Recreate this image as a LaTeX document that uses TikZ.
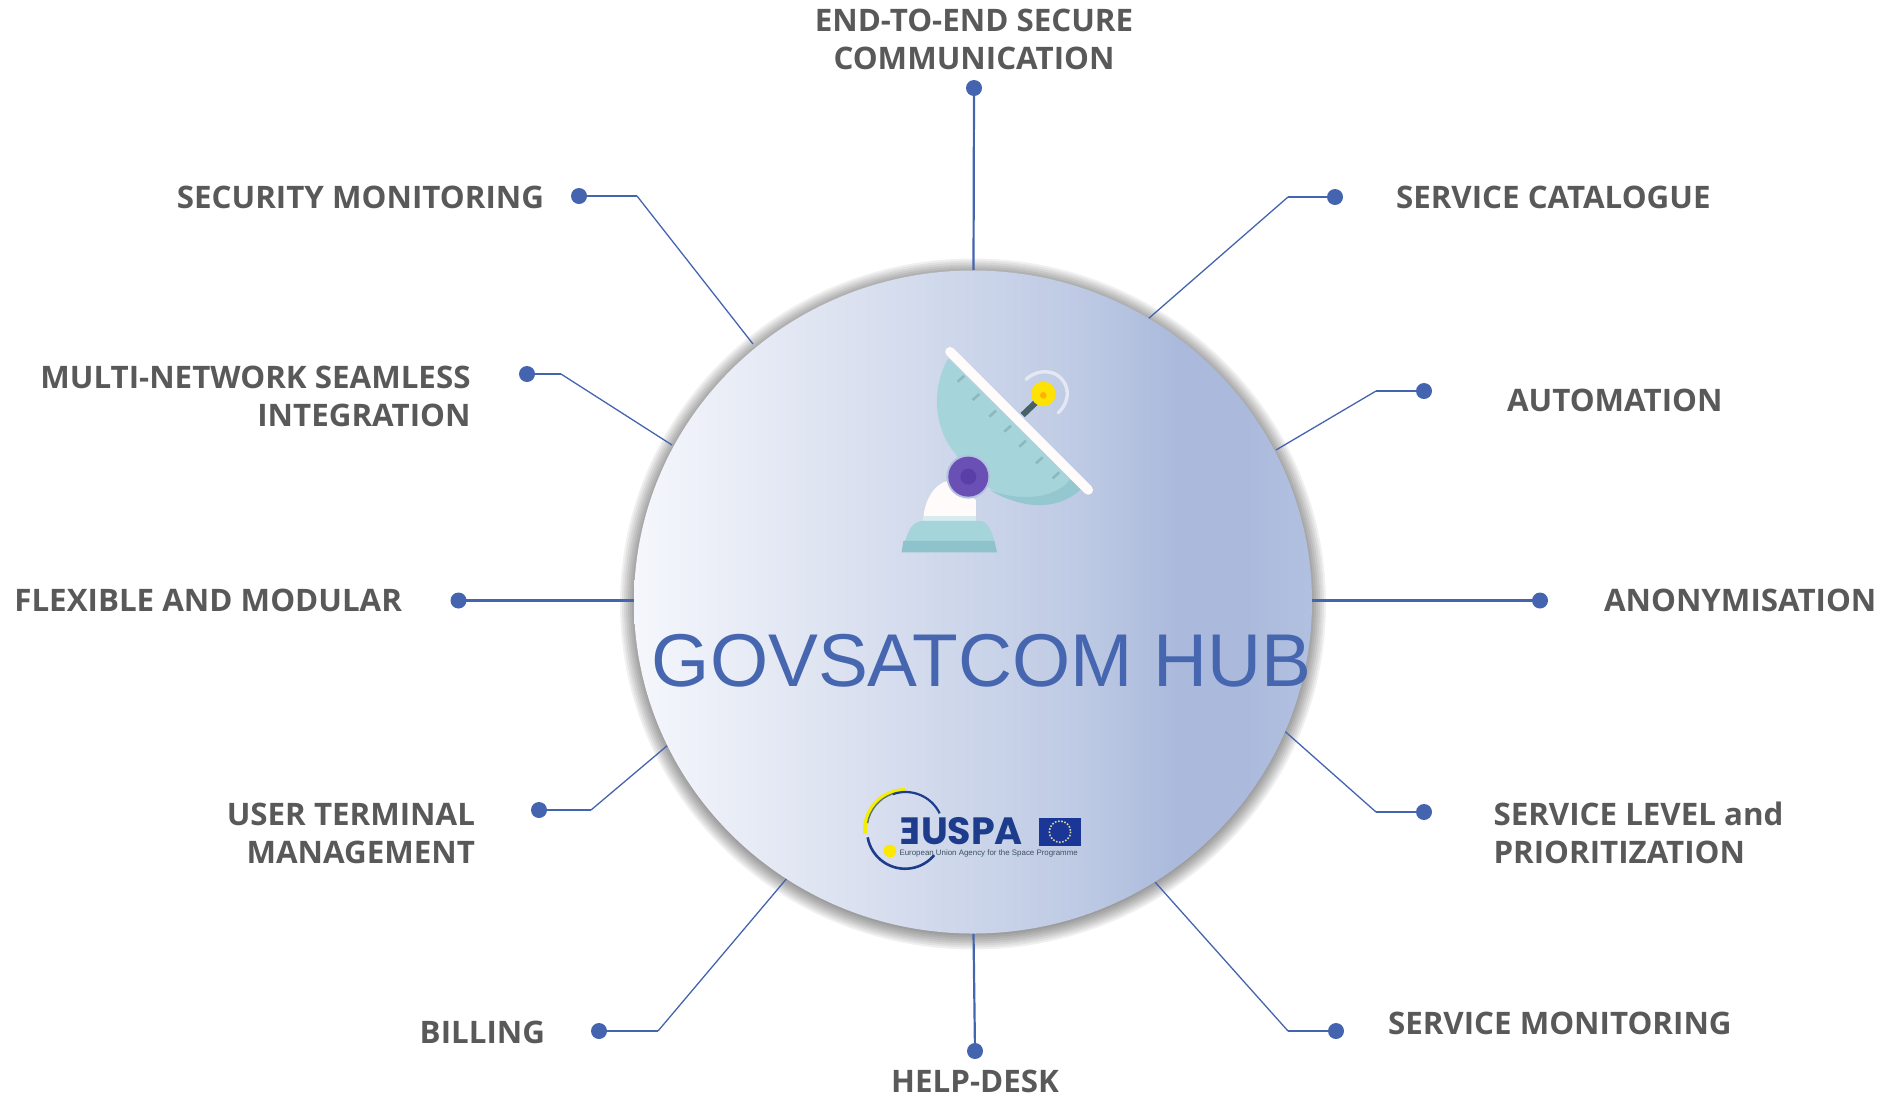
\documentclass[tikz,border=0pt]{standalone}
\usepackage{fontspec}
\setmainfont{Liberation Sans}
\newfontfamily\labfont[FakeStretch=1.01]{Open Sans}
\newfontfamily\titlefont{Liberation Sans}
\newfontfamily\logofont{Poppins}
\definecolor{lineblue}{HTML}{4464B0}
\definecolor{labgrey}{HTML}{595959}
\definecolor{titleblue}{HTML}{4666B0}
\definecolor{teal1}{HTML}{A6D4DB}
\definecolor{teal2}{HTML}{8FC3CC}
\definecolor{navy}{HTML}{1D3C8C}
\definecolor{HubA}{HTML}{F5F7FC}
\definecolor{HubB}{HTML}{E0E5F2}
\definecolor{HubC}{HTML}{BECAE4}
\definecolor{HubD}{HTML}{ABBADC}
\definecolor{HubE}{HTML}{B2C0E0}
\definecolor{violetA}{HTML}{6A50B4}
\definecolor{violetB}{HTML}{5A3FA8}
\pgfdeclarehorizontalshading{hubshade}{100bp}{
 color(0bp)=(HubA);
 color(25bp)=(HubA);
 color(38bp)=(HubB);
 color(58bp)=(HubC);
 color(65bp)=(HubD);
 color(70bp)=(HubD);
 color(75bp)=(HubE);
 color(100bp)=(HubE)}
\tikzset{
 lab/.style={font=\labfont\bfseries\fontsize{31}{38}\selectfont,text=labgrey,inner sep=0pt,outer sep=0pt},
 labL/.style={lab,anchor=west,align=left},
 labR/.style={lab,anchor=east,align=right},
 labC/.style={lab,anchor=center,align=center},
 dot/.style={circle,fill=lineblue,draw=none,minimum size=16pt,inner sep=0pt},
 wire/.style={draw=lineblue,line width=1.3pt},
 wirethick/.style={draw=lineblue,line width=2.2pt}
}
\begin{document}
\begin{tikzpicture}[x=1pt,y=-1pt]
\useasboundingbox (0,0) rectangle (1887,1096);
% shadow
\foreach \r in {14,12,...,0}{
 \fill[black,opacity=0.06] (973,604) ellipse [x radius=339+\r,y radius=331.5+\r];
}
% dots
\node[dot] (dTop) at (974,88) {};
\node[dot] (dCat) at (1335,197) {};
\node[dot] (dAut) at (1424,391) {};
\node[dot] (dAno) at (1540,600.5) {};
\node[dot] (dLev) at (1424,812) {};
\node[dot] (dMon) at (1336,1031) {};
\node[dot] (dHlp) at (975,1051) {};
\node[dot] (dBil) at (599,1031) {};
\node[dot] (dUsr) at (539,810) {};
\node[dot] (dFlx) at (458.5,600.5) {};
\node[dot] (dMul) at (527,374) {};
\node[dot] (dSec) at (579,196) {};
% elbows and ends
\coordinate (eCat) at (1288,197); \coordinate (tCat) at (1148,319);
\coordinate (eAut) at (1376,391); \coordinate (tAut) at (1276,450);
\coordinate (eLev) at (1376,812); \coordinate (tLev) at (1284,730.5);
\coordinate (eMon) at (1288,1031); \coordinate (tMon) at (1155,882);
\coordinate (eBil) at (658,1031); \coordinate (tBil) at (788,877);
\coordinate (eUsr) at (591,810); \coordinate (tUsr) at (668,745);
\coordinate (eMul) at (561,374); \coordinate (tMul) at (672,445);
\coordinate (eSec) at (637,196); \coordinate (tSec) at (753,344);
\coordinate (tTop) at (973.5,270); \coordinate (tHlp) at (973.5,933);
\coordinate (tAno) at (1312,600.5); \coordinate (tFlx) at (634,600.5);
% connectors
\foreach \n in {Cat,Aut,Lev,Mon,Bil,Usr,Mul,Sec}{
 \draw[wirethick] (d\n.center) -- (e\n);
 \draw[wire] (e\n) -- (t\n);
}
\foreach \n in {Top,Hlp,Ano,Flx}{ \draw[wirethick] (d\n.center) -- (t\n); }
% hub
\path[shading=hubshade] (973,602) ellipse [x radius=339,y radius=331.5];
% antenna icon
\begin{scope}[shift={(840,320)},x=0.3333pt,y=-0.3333pt]
 \fill[teal1] (325,115) .. controls (270,210) and (285,330) .. (345,400)
   .. controls (420,500) and (480,530) .. (560,552)
   .. controls (630,565) and (690,540) .. (722,508) -- cycle;
 \fill[teal2!75!teal1] (450,510) .. controls (520,540) and (640,545) .. (690,478) -- (722,508)
   .. controls (690,540) and (630,565) .. (560,552) .. controls (520,545) and (480,530) .. (450,510) -- cycle;
 \foreach \a/\b in {365/175,410/230,460/280,505/325,550/370,600/420,650/465}{
  \draw[teal2!80!black!90,line width=2.6pt,opacity=.6] (\a-12,\b+10) -- (\a+8,\b-8);
 }
 \draw[draw=white!93!pink,line width=9.5pt,line cap=round] (330,95) -- (745,510);
 \draw[draw=white!85!lineblue,line width=3.4pt,line cap=round]
   (558,178) .. controls (600,140) and (665,150) .. (680,205) .. controls (688,235) and (670,265) .. (655,278);
 \draw[draw=teal2!50!black,line width=6pt] (548,285) -- (590,245);
 \fill[yellow!85!orange] (610,222) circle [radius=37];
 \fill[orange!60!yellow] (610,226) circle [radius=10];
 \fill[white!93!pink] (250,605) .. controls (250,540) and (285,490) .. (325,482)
   -- (408,540) -- (408,605) -- cycle;
 \fill[teal1!45!white] (250,588) rectangle (408,606);
 \fill[teal1] (200,650) .. controls (210,620) and (225,603) .. (250,603) -- (420,603)
   .. controls (440,603) and (455,625) .. (470,690) -- (185,690) -- cycle;
 \fill[teal2] (190,663) -- (463,663) -- (471,697) -- (185,697) -- cycle;
 \fill[HubC!45!HubD] (385,470) circle [radius=66];
 \fill[violetA] (385,470) circle [radius=60];
 \fill[violetB] (385,470) circle [radius=24];
\end{scope}
% logo
\begin{scope}[shift={(840,770)},x=0.3333pt,y=-0.3333pt]
 \draw[yellow!80!lime,line width=4pt] (195,60) arc [start angle=-90,end angle=-185,radius=120];
 \draw[navy,line width=2.2pt] (299,130) arc [start angle=-26,end angle=-110,radius=114];
 \draw[navy!70!yellow,line width=1.4pt] (156,72) arc [start angle=-110,end angle=-170,radius=114];
 \draw[navy,line width=2.6pt] (83,202) arc [start angle=170,end angle=40,radius=114];
 \fill[yellow!90!orange] (150,243) circle [radius=19];
 \node[font=\logofont\bfseries\fontsize{38}{38}\selectfont,text=navy,inner sep=0pt,anchor=base west] (logoname) at (178,224) {\reflectbox{E}\kern1ptUSPA};
 \fill[navy!90!blue] (597,143) rectangle (723,228);
 \draw[yellow!30!HubC,line width=1.6pt,dash pattern=on 1.6pt off 1.6pt] (660,185) circle [radius=32];
 \node[font=\titlefont\fontsize{7.9}{8}\selectfont,text=navy!70!olive,inner sep=0pt,anchor=west] (logotext) at (178,249) {European Union Agency for the Space Programme};
\end{scope}
% title
\node[font=\titlefont\fontsize{74.8}{75}\selectfont,text=titleblue,inner sep=0pt,anchor=base] (title) at (981.5,686) {GOVSATCOM HUB};
% labels
\node[labC] (lTop) at (974,39.5) {END-TO-END SECURE\\COMMUNICATION};
\node[labR] (lSec) at (544,197.5) {SECURITY MONITORING};
\node[labR] (lMul) at (470.5,396.5) {MULTI-NETWORK SEAMLESS\\INTEGRATION};
\node[labR] (lFlx) at (402,600.5) {FLEXIBLE AND MODULAR};
\node[labR] (lUsr) at (475,833) {USER TERMINAL\\MANAGEMENT};
\node[labR] (lBil) at (545,1032) {BILLING};
\node[lab,anchor=base,text depth=0pt] (lHlp) at (975,1092) {HELP-DESK};
\node[labL] (lMon) at (1388,1023.5) {SERVICE MONITORING};
\node[labL] (lLev) at (1493.5,832.5) {SERVICE LEVEL and\\PRIORITIZATION};
\node[labL] (lAno) at (1604,600.5) {ANONYMISATION};
\node[labL] (lAut) at (1507,400.5) {AUTOMATION};
\node[labL] (lCat) at (1396,197.5) {SERVICE CATALOGUE};
\end{tikzpicture}
\end{document}
